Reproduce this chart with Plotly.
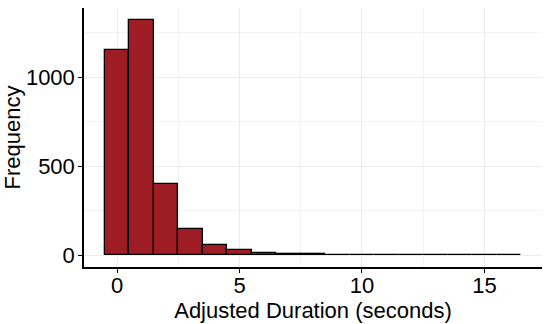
import plotly.graph_objects as go

bin_centers = list(range(0, 17))
counts = [1151, 1322, 400, 149, 58, 28, 12, 7, 5, 2, 1, 1, 1, 2, 1, 1, 1]
x_ticks = [0, 5, 10, 15]
y_ticks = [0, 500, 1000]

fig = go.Figure(go.Bar(
    x=bin_centers, y=counts, width=1,
    marker=dict(color="#9E1D24", line=dict(color="black", width=1.3)),
))

font = dict(family="Liberation Sans, Arial, sans-serif", color="black")
fig.update_layout(
    width=550, height=324,
    margin=dict(l=84, r=8, t=8, b=57),
    paper_bgcolor="white", plot_bgcolor="white",
    font=font, showlegend=False, bargap=0,
)
fig.update_xaxes(
    automargin=False,
    range=[-1.35, 17.35], tickvals=x_ticks, ticks="outside", ticklen=4, tickcolor="black",
    ticklabelstandoff=-6,
    showline=True, linecolor="black", linewidth=1.5, zeroline=False,
    showgrid=True, gridcolor="#EBEBEB", gridwidth=1.2,
    minor=dict(tickvals=[2.5, 7.5, 12.5, 17.5], showgrid=True, gridcolor="#F3F3F3", gridwidth=0.8),
    tickfont=dict(size=22), title=dict(text="Adjusted Duration (seconds)", font=dict(size=22), standoff=0),
)
fig.update_yaxes(
    automargin=False,
    range=[-66, 1388], tickvals=y_ticks, ticks="outside", ticklen=4, tickcolor="black",
    ticklabelstandoff=-1,
    showline=True, linecolor="black", linewidth=1.5, zeroline=False,
    showgrid=True, gridcolor="#EBEBEB", gridwidth=1.2,
    minor=dict(tickvals=[250, 750, 1250], showgrid=True, gridcolor="#F3F3F3", gridwidth=0.8),
    tickfont=dict(size=22), title=dict(text="Frequency", font=dict(size=22), standoff=4),
)
fig.write_html("out.html", config={"displayModeBar": False},
               post_script="document.body.style.margin='0';")
